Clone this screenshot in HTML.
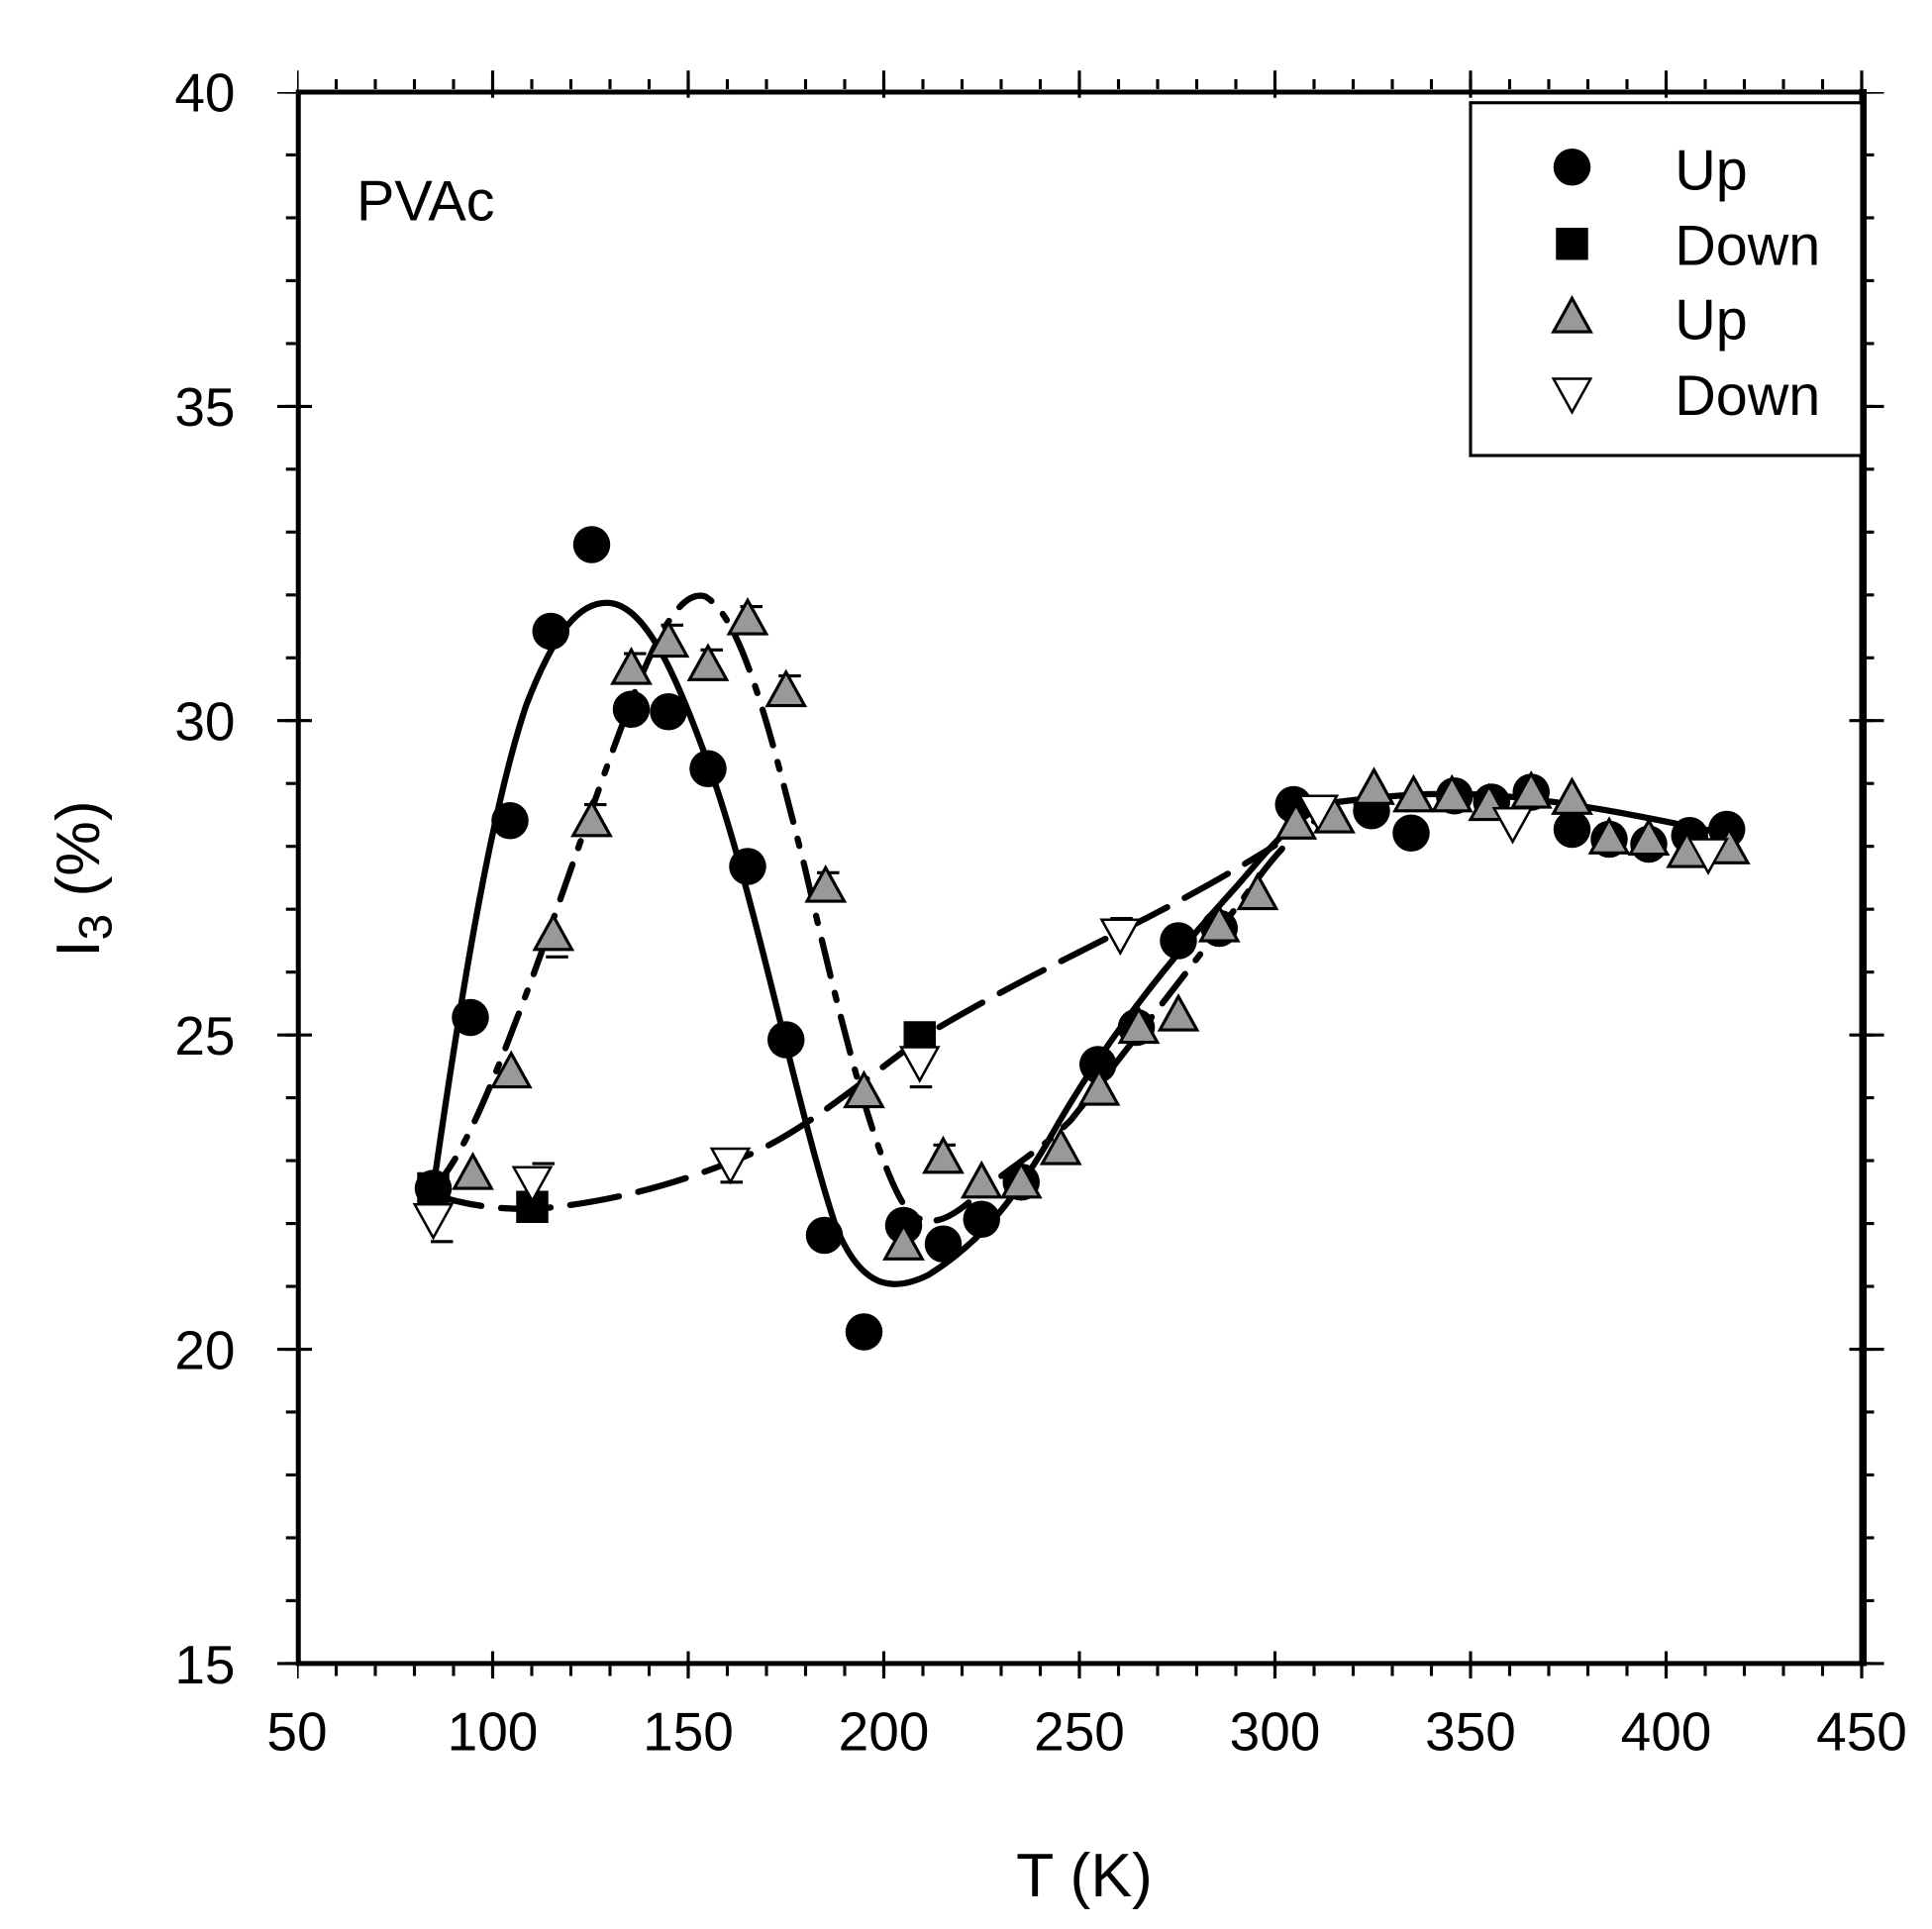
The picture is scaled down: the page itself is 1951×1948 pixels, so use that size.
<!DOCTYPE html>
<html><head><meta charset="utf-8"><style>html,body{margin:0;padding:0;background:#fff}svg{display:block}</style></head>
<body>
<svg width="1951" height="1948" viewBox="0 0 1951 1948" xmlns="http://www.w3.org/2000/svg">
<defs>
<g id="c"><circle r="15" fill="#000"/></g>
<g id="s"><rect x="-13" y="-13" width="26" height="26" fill="#000"/></g>
<g id="t"><path d="M0,-15 L15,12 L-15,12 Z" fill="#999" stroke="#000" stroke-width="2.5"/></g>
<g id="d"><path d="M-15,-12 L15,-12 L0,15 Z" fill="#fff" stroke="#000" stroke-width="2"/></g>
</defs>
<rect width="1951" height="1948" fill="#fff"/>
<g transform="scale(1.25)" font-family="Liberation Sans, sans-serif" fill="#000">
<rect x="241" y="74.4" width="1263" height="1269.5" fill="none" stroke="#000" stroke-width="4"/>
<line x1="1505" y1="72" x2="1505" y2="1346" stroke="#000" stroke-width="6"/>
<g stroke="#000" stroke-width="8" stroke-dasharray="2.5 29.1" stroke-dashoffset="1.25">
<line x1="240" y1="1350" x2="1506" y2="1350"/>
<line x1="240" y1="68" x2="1506" y2="68"/>
</g>
<g stroke="#000" stroke-width="8" stroke-dasharray="2.5 48.28" stroke-dashoffset="1.25">
<line x1="235" y1="74.4" x2="235" y2="1346"/>
<line x1="1510" y1="74.4" x2="1510" y2="1346"/>
</g>
<g stroke="#000" stroke-width="22" stroke-dasharray="2.5 155.5" stroke-dashoffset="1.25">
<line x1="240" y1="1345" x2="1506" y2="1345"/>
<line x1="240" y1="68" x2="1506" y2="68"/>
</g>
<g stroke="#000" stroke-width="28" stroke-dasharray="2.5 251.4" stroke-dashoffset="1.25">
<line x1="238" y1="74.4" x2="238" y2="1346"/>
<line x1="1508" y1="74.4" x2="1508" y2="1346"/>
</g>
<g font-size="44" text-anchor="middle">
<text x="240" y="1414">50</text><text x="398" y="1414">100</text><text x="556" y="1414">150</text><text x="714" y="1414">200</text><text x="872" y="1414">250</text><text x="1030" y="1414">300</text><text x="1188" y="1414">350</text><text x="1346" y="1414">400</text><text x="1504" y="1414">450</text>
</g>
<g font-size="44" text-anchor="end">
<text x="190" y="90">40</text><text x="190" y="344">35</text><text x="190" y="598">30</text><text x="190" y="852">25</text><text x="190" y="1106">20</text><text x="190" y="1360">15</text>
</g>
<text x="876" y="1532" font-size="50" text-anchor="middle">T (K)</text>
<text transform="translate(80,710) rotate(-90)" font-size="50" text-anchor="middle">I<tspan font-size="38" dy="10">3</tspan><tspan dy="-10"> (%)</tspan></text>
<text x="288" y="178" font-size="46">PVAc</text>
<rect x="1188" y="83" width="316" height="285" fill="#fff" stroke="#000" stroke-width="2.5"/>
<use href="#c" x="1270" y="135"/><use href="#s" x="1270" y="197"/><use href="#t" x="1270" y="256"/><use href="#d" x="1270" y="318"/>
<g font-size="46"><text x="1353" y="153">Up</text><text x="1353" y="214">Down</text><text x="1353" y="274">Up</text><text x="1353" y="335">Down</text></g>
<g fill="none" stroke="#000" stroke-width="5" stroke-linecap="round">
<path d="M350,960 C370,820 395,660 425,570 C450,505 470,487 490,487 C520,487 545,540 575,625 C610,725 645,900 675,990 C695,1040 720,1045 750,1030 C790,1005 815,975 845,925 C895,835 950,770 1000,715 C1030,680 1050,655 1080,648 C1120,643 1150,640 1200,642 C1260,646 1330,660 1400,675"/>
<path d="M350,960 C375,935 400,870 430,790 C470,680 505,570 530,520 C545,490 558,478 570,482 C600,500 622,590 650,700 C680,830 710,950 735,980 C752,993 768,985 790,965 C820,940 840,930 865,905 C905,855 955,790 1005,725 C1030,690 1050,665 1080,655" stroke-dasharray="30 14 6 14"/>
<path d="M350,965 C380,975 410,978 440,976 C500,970 550,955 600,935 C650,915 700,870 750,835 C800,805 850,780 900,755 C950,730 990,708 1030,683" stroke-dasharray="40 16"/>
</g>
<g stroke="#000" stroke-width="2.5" fill="none">
<path d="M348,1003h18M430,940h18M582,955h18M735,878h18M897,742h18M441,773h18M472,650h18M504,528h18M534,505h18M566,525h18M598,490h18M629,546h18M660,705h18M754,925h18"/>
</g>
<g>
<use href="#c" x="350" y="960"/><use href="#c" x="380" y="822"/><use href="#c" x="412" y="663"/><use href="#c" x="445" y="510"/><use href="#c" x="478" y="440"/><use href="#c" x="510" y="573"/><use href="#c" x="540" y="575"/><use href="#c" x="572" y="621"/><use href="#c" x="604" y="700"/><use href="#c" x="635" y="840"/><use href="#c" x="666" y="998"/><use href="#c" x="698" y="1076"/><use href="#c" x="730" y="990"/><use href="#c" x="762" y="1005"/><use href="#c" x="793" y="985"/><use href="#c" x="825" y="955"/><use href="#c" x="887" y="860"/><use href="#c" x="918" y="830"/><use href="#c" x="952" y="760"/><use href="#c" x="985" y="750"/><use href="#c" x="1045" y="650"/><use href="#c" x="1108" y="655"/><use href="#c" x="1140" y="673"/><use href="#c" x="1175" y="643"/><use href="#c" x="1205" y="648"/><use href="#c" x="1237" y="640"/><use href="#c" x="1270" y="670"/><use href="#c" x="1300" y="678"/><use href="#c" x="1332" y="682"/><use href="#c" x="1365" y="675"/><use href="#c" x="1395" y="670"/>
</g>
<g><use href="#s" x="350" y="960"/><use href="#s" x="430" y="975"/><use href="#s" x="743" y="838"/></g>
<g>
<use href="#t" x="382" y="948"/><use href="#t" x="413" y="866"/><use href="#t" x="447" y="755"/><use href="#t" x="478" y="663"/><use href="#t" x="510" y="540"/><use href="#t" x="540" y="518"/><use href="#t" x="572" y="537"/><use href="#t" x="604" y="500"/><use href="#t" x="635" y="558"/><use href="#t" x="667" y="716"/><use href="#t" x="698" y="882"/><use href="#t" x="730" y="1005"/><use href="#t" x="762" y="935"/><use href="#t" x="793" y="955"/><use href="#t" x="825" y="955"/><use href="#t" x="857" y="928"/><use href="#t" x="888" y="880"/><use href="#t" x="920" y="830"/><use href="#t" x="952" y="820"/><use href="#t" x="985" y="748"/><use href="#t" x="1016" y="722"/><use href="#t" x="1047" y="665"/><use href="#t" x="1078" y="660"/><use href="#t" x="1110" y="637"/><use href="#t" x="1142" y="643"/><use href="#t" x="1173" y="643"/><use href="#t" x="1203" y="650"/><use href="#t" x="1237" y="640"/><use href="#t" x="1270" y="645"/><use href="#t" x="1300" y="677"/><use href="#t" x="1332" y="678"/><use href="#t" x="1363" y="688"/><use href="#t" x="1397" y="685"/>
</g>
<g>
<use href="#d" x="350" y="985"/><use href="#d" x="430" y="955"/><use href="#d" x="590" y="940"/><use href="#d" x="743" y="858"/><use href="#d" x="905" y="755"/><use href="#d" x="1065" y="655"/><use href="#d" x="1222" y="665"/><use href="#d" x="1380" y="690"/>
</g>
</g>
</svg>
</body></html>
